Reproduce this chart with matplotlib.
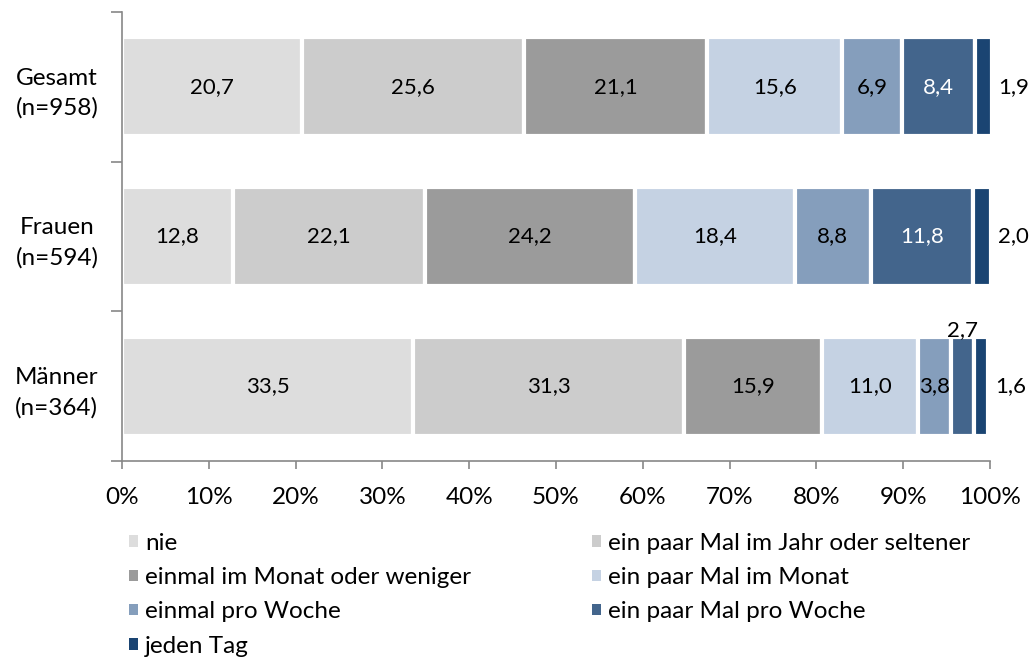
import matplotlib.pyplot as plt
import numpy as np

# --- data ---
groups = ['Männer\n(n=364)', 'Frauen\n(n=594)', 'Gesamt\n(n=958)']
answers = ['nie', 'ein paar Mal im Jahr oder seltener', 'einmal im Monat oder weniger',
           'ein paar Mal im Monat', 'einmal pro Woche', 'ein paar Mal pro Woche', 'jeden Tag']
values = {
    'Männer': [33.5, 31.3, 15.9, 11.0, 3.8, 2.7, 1.6],
    'Frauen': [12.8, 22.1, 24.2, 18.4, 8.8, 11.8, 2.0],
    'Gesamt': [20.7, 25.6, 21.1, 15.6, 6.9, 8.4, 1.9],
}
colors = ['#dddddd', '#cccccc', '#9b9b9b', '#c5d2e3', '#859ebc', '#43658c', '#1a4472']
text_colors = ['black', 'black', 'black', 'black', 'black', 'white', 'black']
xticks = np.arange(0, 101, 10)

plt.rcParams['font.family'] = ['Lato', 'DejaVu Sans']

fig = plt.figure(figsize=(10.29, 6.62), dpi=100)
ax = fig.add_axes([0.1186, 0.3036, 0.8434, 0.6784])

data = np.array([values['Männer'], values['Frauen'], values['Gesamt']])
y = np.arange(len(groups))
left = np.zeros(len(groups))
for j, name in enumerate(answers):
    ax.barh(y, data[:, j], left=left, height=0.66, color=colors[j],
            edgecolor='white', linewidth=3, label=name)
    for i in range(len(groups)):
        v = data[i, j]
        txt = f'{v:.1f}'.replace('.', ',')
        cx = left[i] + v / 2
        if j == len(answers) - 1:
            ax.text(left[i] + v + 0.8, y[i], txt, ha='left', va='center',
                    fontsize=16, color='black')
        elif i == 0 and j == 5:
            # small segment in "Männer": label sits above the bar
            ax.text(cx, y[i] + 0.31, txt, ha='center', va='bottom',
                    fontsize=16, color='black')
        else:
            ax.text(cx, y[i], txt, ha='center', va='center',
                    fontsize=16, color=text_colors[j])
    left += data[:, j]

ax.set_xlim(0, 100)
ax.set_ylim(-0.5, 2.5)
ax.set_xticks(xticks)
ax.set_xticklabels([f'{t}%' for t in xticks], fontsize=17.5)
ax.set_yticks(y)
ax.set_yticklabels(groups, fontsize=17.5, linespacing=1.5, multialignment='center')
ax.set_yticks([-0.5, 0.5, 1.5, 2.5], minor=True)
ax.tick_params(axis='y', which='major', length=0, pad=17)
ax.tick_params(axis='y', which='minor', length=8, color='#888888', width=1.2)
ax.tick_params(axis='x', length=6, color='#888888', width=1.2, pad=13)
for s in ['top', 'right']:
    ax.spines[s].set_visible(False)
for s in ['left', 'bottom']:
    ax.spines[s].set_color('#888888')
    ax.spines[s].set_linewidth(1.2)

# legend: fill row by row in two columns
order = [0, 2, 4, 6, 1, 3, 5]
handles = [plt.Rectangle((0, 0), 1, 1, facecolor=colors[k], edgecolor='none') for k in order]
labels = [answers[k] for k in order]
fig.legend(handles, labels, loc='upper left', bbox_to_anchor=(0.116, 0.21),
           ncol=2, frameon=False, fontsize=17.5, handlelength=0.35, handleheight=0.35,
           handletextpad=0.3, columnspacing=5.0, labelspacing=0.55, borderaxespad=0)

fig.savefig('out.png', dpi=100)
